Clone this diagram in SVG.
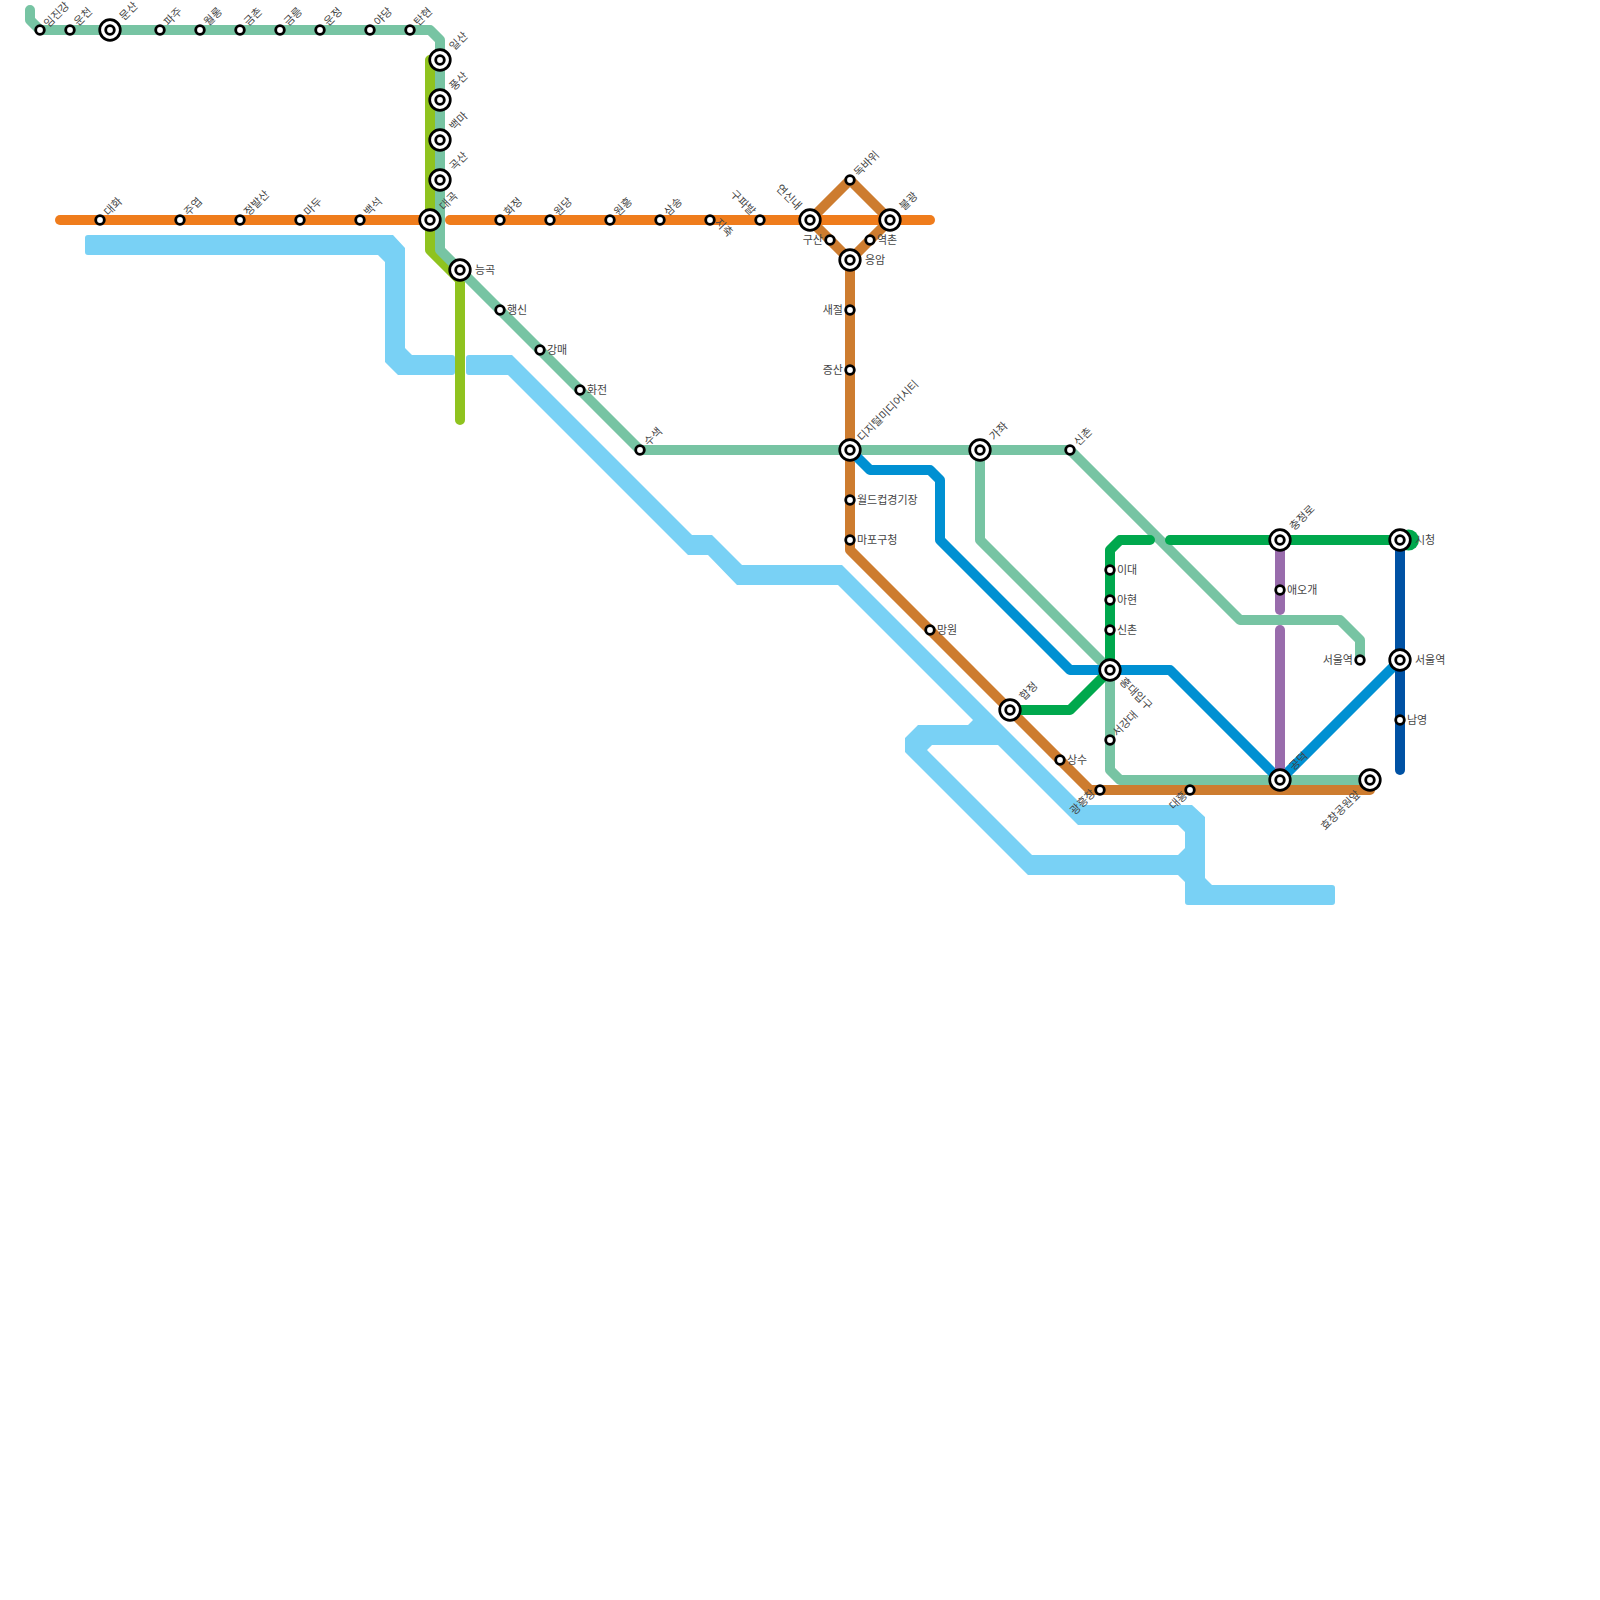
<svg xmlns="http://www.w3.org/2000/svg" width="1600" height="1600" viewBox="0 0 1600 1600">
<style>
.l{fill:none;stroke-width:10;stroke-linecap:round;stroke-linejoin:round}
.re{fill:#79d1f5}
.s{fill:#fff;stroke:#000;stroke-width:2.8}
.b{fill:#fff;stroke:#000;stroke-width:2.7}
text{font-family:"Noto Sans CJK KR","Noto Sans",sans-serif;font-size:11px;fill:#444;opacity:.99}
</style>
<defs>
<g id="st"><circle class="s" r="4.3"/></g>
<g id="big"><circle class="b" r="10.3"/><circle class="s" r="4.3"/></g>
</defs>
<g id="river">
<path class="re" d="M88 235H393L405 248V348L412 355H452Q455 355 455 358V372Q455 375 452 375H398L385 362V262L378 255H88Q85 255 85 252V238Q85 235 88 235Z"/>
<path class="re" d="M469 355H512L692 535H712L742 565H842L1082 805H1192L1205 817V878L1212 885H1332Q1335 885 1335 888V902Q1335 905 1332 905H1188Q1185 905 1185 902V832L1178 825H1078L838 585H737L708 555H688L508 375H469Q466 375 466 372V358Q466 355 469 355Z"/>
<path class="re" d="M1187 846L1178 855H1032L927 750L932 745H1010L985 720H973L968 725H918L905 738V752L1028 875H1178L1187 884Z"/>
</g>
<g id="connectors">
<path class="l" stroke="#8fc31f" d="M430 60V250L460 280V420"/>
<path class="l" stroke="#77c4a3" d="M30 10V20L40 30H430L440 40V250L640 450H1070L1240 620H1340L1360 640V660"/>
<path class="l" stroke="#77c4a3" d="M980 450V540L1110 670V770L1120 780H1370"/>
<path class="l" stroke="#ef7c1c" d="M60 220H430"/>
<path class="l" stroke="#cd7c2f" d="M810 220L850 180L890 220L850 260L810 220"/>
<path class="l" stroke="#cd7c2f" d="M850 260V550L1090 790H1370V780"/>
<path class="l" stroke="#ef7c1c" d="M450 220H930"/>
<path class="l" stroke="#0090d2" d="M850 450L870 470H930L940 480V540L1070 670H1170L1280 780L1400 660"/>
<path class="l" stroke="#00a84d" d="M1010 710H1070L1110 670V550L1120 540H1150"/>
<path class="l" stroke="#00a84d" d="M1170 540H1400"/>
<circle cx="1408.500" cy="540" r="10.500" fill="#00a84d"/>
<path class="l" stroke="#996cac" d="M1280 540V610"/>
<path class="l" stroke="#996cac" d="M1280 630V780"/>
<path class="l" stroke="#0052a4" d="M1400 540V770"/>
</g>
<g id="n-imjingang"><use href="#st" x="40" y="30"/><text transform="translate(48.500 28) rotate(-45)">임진강</text></g>
<g id="n-uncheon"><use href="#st" x="70" y="30"/><text transform="translate(78.500 26.500) rotate(-45)">운천</text></g>
<g id="n-munsan"><use href="#big" x="110" y="30"/><text transform="translate(124 21) rotate(-45)">문산</text></g>
<g id="n-paju"><use href="#st" x="160" y="30"/><text transform="translate(168.500 26.500) rotate(-45)">파주</text></g>
<g id="n-wollong"><use href="#st" x="200" y="30"/><text transform="translate(208.500 26.500) rotate(-45)">월롱</text></g>
<g id="n-geumchon"><use href="#st" x="240" y="30"/><text transform="translate(248.500 26.500) rotate(-45)">금촌</text></g>
<g id="n-geumneung"><use href="#st" x="280" y="30"/><text transform="translate(288.500 26.500) rotate(-45)">금릉</text></g>
<g id="n-unjeong"><use href="#st" x="320" y="30"/><text transform="translate(328.500 26.500) rotate(-45)">운정</text></g>
<g id="n-yadang"><use href="#st" x="370" y="30"/><text transform="translate(378.500 26.500) rotate(-45)">야당</text></g>
<g id="n-tanhyeon"><use href="#st" x="410" y="30"/><text transform="translate(418.500 26.500) rotate(-45)">탄현</text></g>
<g id="n-ilsan"><use href="#big" x="440" y="60"/><text transform="translate(454 51) rotate(-45)">일산</text></g>
<g id="n-pungsan"><use href="#big" x="440" y="100"/><text transform="translate(454 91) rotate(-45)">풍산</text></g>
<g id="n-baekma"><use href="#big" x="440" y="140"/><text transform="translate(454 131) rotate(-45)">백마</text></g>
<g id="n-goksan"><use href="#big" x="440" y="180"/><text transform="translate(454 171) rotate(-45)">곡산</text></g>
<g id="n-daegok"><use href="#big" x="430" y="220"/><text transform="translate(444 211) rotate(-45)">대곡</text></g>
<g id="n-daehwa"><use href="#st" x="100" y="220"/><text transform="translate(108.500 216.500) rotate(-45)">대화</text></g>
<g id="n-juyeop"><use href="#st" x="180" y="220"/><text transform="translate(188.500 216.500) rotate(-45)">주엽</text></g>
<g id="n-jeongbalsan"><use href="#st" x="240" y="220"/><text transform="translate(248.500 216.500) rotate(-45)">정발산</text></g>
<g id="n-madu"><use href="#st" x="300" y="220"/><text transform="translate(308.500 216.500) rotate(-45)">마두</text></g>
<g id="n-baekseok"><use href="#st" x="360" y="220"/><text transform="translate(368.500 216.500) rotate(-45)">백석</text></g>
<g id="n-hwajeong"><use href="#st" x="500" y="220"/><text transform="translate(508.500 216.500) rotate(-45)">화정</text></g>
<g id="n-wondang"><use href="#st" x="550" y="220"/><text transform="translate(558.500 216.500) rotate(-45)">원당</text></g>
<g id="n-wonheung"><use href="#st" x="610" y="220"/><text transform="translate(618.500 216.500) rotate(-45)">원흥</text></g>
<g id="n-samsong"><use href="#st" x="660" y="220"/><text transform="translate(668.500 216.500) rotate(-45)">삼송</text></g>
<g id="n-jichuk"><use href="#st" x="710" y="220"/><text transform="translate(714 223) rotate(45)">지축</text></g>
<g id="n-gupabal"><use href="#st" x="760" y="220"/><text text-anchor="end" transform="translate(751 216) rotate(45)">구파발</text></g>
<g id="n-yeonsinnae"><use href="#big" x="810" y="220"/><text text-anchor="end" transform="translate(797 210.500) rotate(45)">연신내</text></g>
<g id="n-dokbawi"><use href="#st" x="850" y="180"/><text transform="translate(858.500 177) rotate(-45)">독바위</text></g>
<g id="n-bulgwang"><use href="#big" x="890" y="220"/><text transform="translate(904 211) rotate(-45)">불광</text></g>
<g id="n-gusan"><use href="#st" x="830" y="240"/><text text-anchor="end" x="823" y="244">구산</text></g>
<g id="n-yeokchon"><use href="#st" x="870" y="240"/><text x="877" y="244">역촌</text></g>
<g id="n-eungam"><use href="#big" x="850" y="260"/><text x="865" y="264">응암</text></g>
<g id="n-saejeol"><use href="#st" x="850" y="310"/><text text-anchor="end" x="843" y="314">새절</text></g>
<g id="n-jeungsan"><use href="#st" x="850" y="370"/><text text-anchor="end" x="843" y="374">증산</text></g>
<g id="n-dmc"><use href="#big" x="850" y="450"/><text transform="translate(862 442) rotate(-45)">디지털미디어시티</text></g>
<g id="n-neunggok"><use href="#big" x="460" y="270"/><text x="475" y="274">능곡</text></g>
<g id="n-haengsin"><use href="#st" x="500" y="310"/><text x="507" y="314">행신</text></g>
<g id="n-gangmae"><use href="#st" x="540" y="350"/><text x="547" y="354">강매</text></g>
<g id="n-hwajeon"><use href="#st" x="580" y="390"/><text x="587" y="394">화전</text></g>
<g id="n-susaek"><use href="#st" x="640" y="450"/><text transform="translate(648.500 446.500) rotate(-45)">수색</text></g>
<g id="n-gajwa"><use href="#big" x="980" y="450"/><text transform="translate(994 441) rotate(-45)">가좌</text></g>
<g id="n-sinchon-g"><use href="#st" x="1070" y="450"/><text transform="translate(1078.500 446.500) rotate(-45)">신촌</text></g>
<g id="n-wcup"><use href="#st" x="850" y="500"/><text x="857" y="504">월드컵경기장</text></g>
<g id="n-mapo"><use href="#st" x="850" y="540"/><text x="857" y="544">마포구청</text></g>
<g id="n-mangwon"><use href="#st" x="930" y="630"/><text x="937" y="634">망원</text></g>
<g id="n-hapjeong"><use href="#big" x="1010" y="710"/><text transform="translate(1024 701) rotate(-45)">합정</text></g>
<g id="n-sangsu"><use href="#st" x="1060" y="760"/><text x="1067" y="764">상수</text></g>
<g id="n-gwangheungchang"><use href="#st" x="1100" y="790"/><text text-anchor="end" transform="translate(1096 794) rotate(-45)">광흥창</text></g>
<g id="n-daeheung"><use href="#st" x="1190" y="790"/><text text-anchor="end" transform="translate(1188 796) rotate(-45)">대흥</text></g>
<g id="n-ewha"><use href="#st" x="1110" y="570"/><text x="1117" y="574">이대</text></g>
<g id="n-ahyeon"><use href="#st" x="1110" y="600"/><text x="1117" y="604">아현</text></g>
<g id="n-sinchon"><use href="#st" x="1110" y="630"/><text x="1117" y="634">신촌</text></g>
<g id="n-hongdae"><use href="#big" x="1110" y="670"/><text transform="translate(1119 682) rotate(45)">홍대입구</text></g>
<g id="n-sogang"><use href="#st" x="1110" y="740"/><text transform="translate(1117 737) rotate(-45)">서강대</text></g>
<g id="n-gongdeok"><use href="#big" x="1280" y="780"/><text transform="translate(1294 771) rotate(-45)">공덕</text></g>
<g id="n-hyochang"><use href="#big" x="1370" y="780"/><text text-anchor="end" transform="translate(1361 795) rotate(-45)">효창공원앞</text></g>
<g id="n-chungjeongno"><use href="#big" x="1280" y="540"/><text transform="translate(1294 531) rotate(-45)">충정로</text></g>
<g id="n-aeogae"><use href="#st" x="1280" y="590"/><text x="1287" y="594">애오개</text></g>
<g id="n-seoul-g"><use href="#st" x="1360" y="660"/><text text-anchor="end" x="1353" y="664">서울역</text></g>
<g id="n-cityhall"><use href="#big" x="1400" y="540"/><text x="1415" y="544">시청</text></g>
<g id="n-seoul"><use href="#big" x="1400" y="660"/><text x="1415" y="664">서울역</text></g>
<g id="n-namyeong"><use href="#st" x="1400" y="720"/><text x="1407" y="724">남영</text></g>
</svg>
